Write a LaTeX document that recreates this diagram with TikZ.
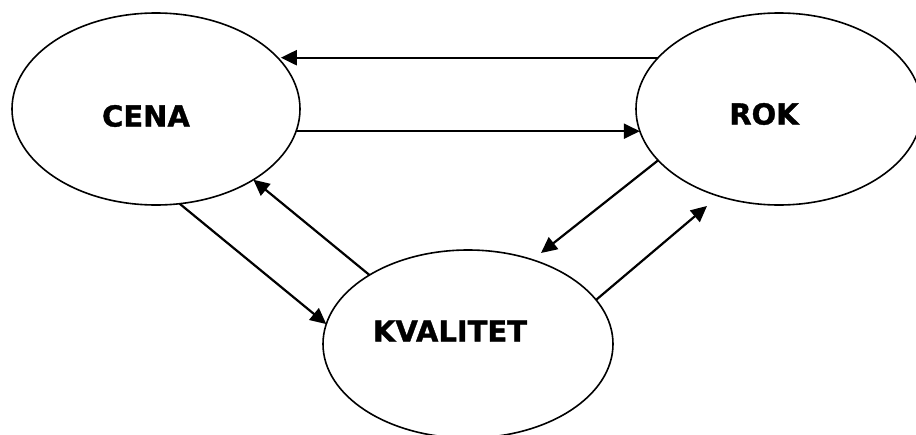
\documentclass[tikz,border=0pt]{standalone}
\usepackage{fontspec}
\setmainfont{DejaVu Sans}[BoldFeatures={FakeBold=1.2}]
\usetikzlibrary{shapes.geometric,arrows.meta}
\tikzset{
  bubble/.style={ellipse, draw, line width=1.6pt, inner sep=0pt, outer sep=0pt},
  tag/.style={font=\bfseries\fontsize{29}{29}\selectfont, inner sep=0pt},
  arr/.style={line width=2.2pt, -{Triangle[length=16pt,width=15pt]}}
}
\begin{document}
\begin{tikzpicture}[x=1pt,y=-1pt]
  \clip (0,0) rectangle (916,434);
  \fill[white] (0,0) rectangle (916,434);

  % the three concepts
  \node[bubble, minimum width=288pt, minimum height=192pt] (cena) at (156,109) {};
  \node[bubble, minimum width=286pt, minimum height=192pt] (rok)  at (779,109) {};
  \node[bubble, minimum width=290pt, minimum height=188pt] (kval) at (468,344) {};

  \node[tag] (cenatxt) at (146,116) {CENA};
  \node[tag] (roktxt)  at (764,114) {ROK};
  \node[tag] (kvaltxt) at (450,331) {KVALITET};

  % free arrow tips that stop short of the ellipse
  \coordinate (tipkval) at (541,253);
  \coordinate (tiprok)  at (707,206);

  % relations
  \draw[arr] (rok.157.7) -- (cena.21.6 |- rok.157.7);
  \draw[arr] (cena.-9.5) -- (rok.189.5 |- cena.-9.5);
  \draw[arr] (rok.203) -- (tipkval);
  \draw[arr] (kval.19.4) -- (tiprok);
  \draw[arr] (kval.145.5) -- (cena.-36.6);
  \draw[arr] (cena.-76) -- (kval.172.9);
\end{tikzpicture}
\end{document}
